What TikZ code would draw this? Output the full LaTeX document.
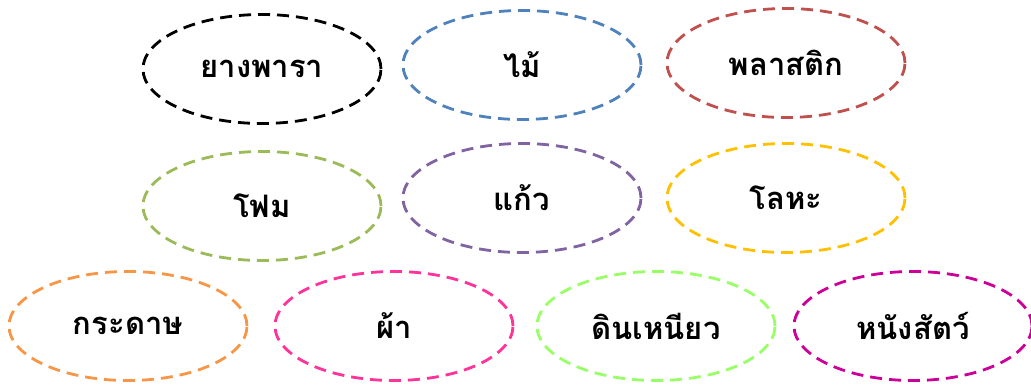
\documentclass[tikz,border=0pt]{standalone}
\usepackage{fontspec}
\newfontfamily\thaifont[Script=Thai]{Loma}
\usepackage{tikz}
\usetikzlibrary{shapes.geometric}
\usepackage{xcolor}
\definecolor{rubber}{RGB}{0,0,0}
\definecolor{wood}{RGB}{79,129,189}
\definecolor{plastic}{RGB}{192,80,77}
\definecolor{foam}{RGB}{155,187,89}
\definecolor{glass}{RGB}{128,100,162}
\definecolor{metal}{RGB}{255,192,0}
\definecolor{paper}{RGB}{247,150,70}
\definecolor{cloth}{RGB}{255,51,153}
\definecolor{clay}{RGB}{153,255,102}
\definecolor{leather}{RGB}{204,0,153}

\begin{document}
\begin{tikzpicture}[x=1pt,y=-1pt,
  every node/.style={font=\thaifont\bfseries\fontsize{31}{36}\selectfont},
  material/.style={ellipse,draw=#1,dashed,line width=2.8pt,
    dash pattern=on 12pt off 7pt,minimum width=238pt,minimum height=109pt,
    inner sep=0pt}]
\useasboundingbox (0,0) rectangle (1031,385);
% first row
\node[material=rubber] (yang) at (262,69) {ยางพารา};
\node[material=wood] (mai) at (522,65) {ไม้};
\node[material=plastic] (plastic) at (786,63) {พลาสติก};
% second row
\node[material=foam] (foam) at (262,206) {โฟม};
\node[material=glass] (kaew) at (522,198) {แก้ว};
\node[material=metal] (loha) at (786,198) {โลหะ};
% third row
\node[material=paper] (kradat) at (128,326) {กระดาษ};
\node[material=cloth] (pha) at (394,326) {ผ้า};
\node[material=clay] (din) at (656,326) {ดินเหนียว};
\node[material=leather] (nang) at (913,326) {หนังสัตว์};
\end{tikzpicture}
\end{document}
